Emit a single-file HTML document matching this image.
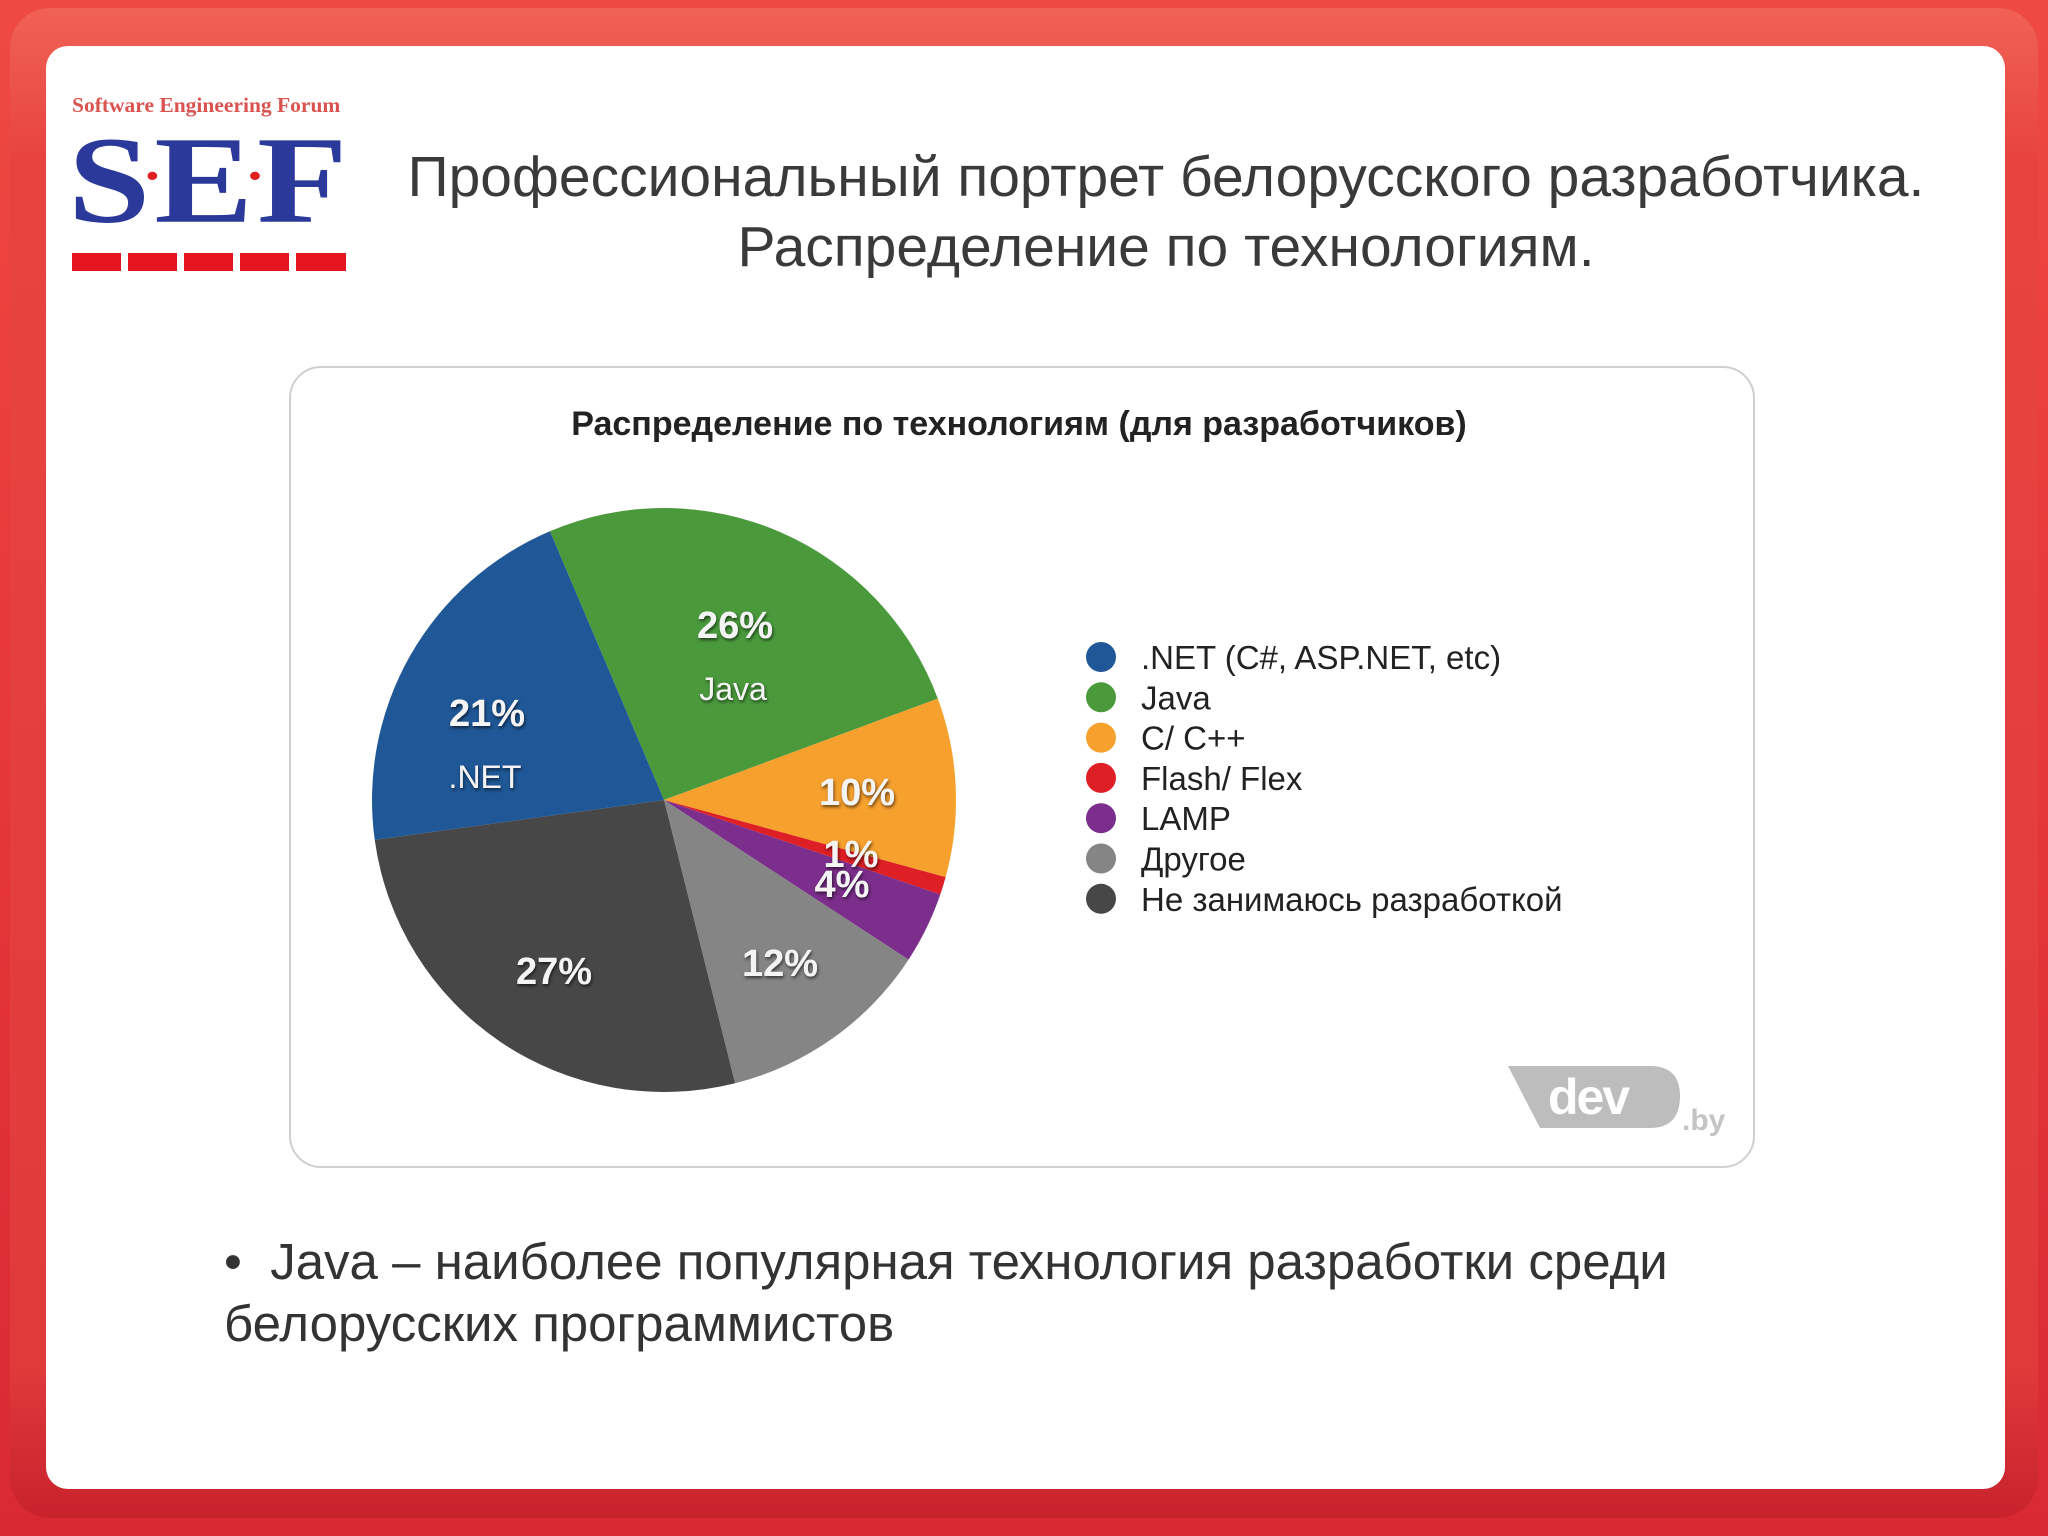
<!DOCTYPE html>
<html><head><meta charset="utf-8">
<style>
html,body{margin:0;padding:0;}
body{width:2048px;height:1536px;position:relative;overflow:hidden;background:linear-gradient(#ee4a43 0%,#e8393a 40%,#d92a33 100%);font-family:"Liberation Sans","DejaVu Sans",sans-serif;}
.frame{position:absolute;left:10px;top:8px;width:2028px;height:1510px;border-radius:40px;background:linear-gradient(#f06255,#e8443f 10%,#e03a3b 90%,#c8222d);}
.panel{position:absolute;left:46px;top:46px;width:1959px;height:1443px;background:#fff;border-radius:22px;}
.t{position:absolute;white-space:nowrap;}
</style></head><body>
<div class="frame"></div>
<div class="panel"></div>

<div>
<div class="t" style="left:72px;top:93px;font-family:'Liberation Serif',serif;font-weight:bold;font-size:21.5px;color:#d9534f;">Software Engineering Forum</div>
<div class="t" style="left:68px;top:126px;width:278px;height:118px;font-family:'Liberation Serif',serif;font-weight:bold;font-size:148px;line-height:118px;color:#2b3a9a;letter-spacing:-8px;transform:scaleY(0.84);transform-origin:top left;">S<span style="color:#e02020;font-size:60px;vertical-align:35px">·</span>E<span style="color:#e02020;font-size:60px;vertical-align:35px">·</span>F</div>
<svg style="position:absolute;left:0;top:0" width="400" height="300">
<g fill="#e4151f"><rect x="72" y="253" width="49" height="18"/><rect x="128" y="253" width="49" height="18"/><rect x="184" y="253" width="49" height="18"/><rect x="240" y="253" width="49" height="18"/><rect x="296" y="253" width="50" height="18"/></g></svg>
</div>

<div class="t" style="left:1166px;top:142px;transform:translateX(-50%);font-size:57px;color:#3a3a3a;text-align:center;line-height:70px;">Профессиональный портрет белорусского разработчика.<br>Распределение по технологиям.</div>

<div style="position:absolute;left:289px;top:366px;width:1466px;height:802px;border:2px solid #cfcfcf;border-radius:32px;box-sizing:border-box;background:#fff;"></div>
<div class="t" style="left:1019px;top:405px;transform:translateX(-50%);font-size:34px;font-weight:bold;color:#222;">Распределение по технологиям (для разработчиков)</div>

<svg id="pie" style="position:absolute;left:0;top:0" width="2048" height="1536">
<defs><filter id="sh" x="-20%" y="-20%" width="140%" height="140%"><feDropShadow dx="1" dy="2" stdDeviation="1.5" flood-color="#000" flood-opacity="0.6"/></filter></defs>
</svg>

<div>
<svg style="position:absolute;left:1500px;top:1060px" width="240" height="85">
<path d="M8 6 L150 6 Q180 6 180 36 Q180 68 150 68 L40 68 Z" fill="#bdbdbd"/>
</svg>
<div class="t" style="left:1548px;top:1068px;font-size:50px;font-weight:bold;color:#fff;letter-spacing:-2px;">dev</div>
<div class="t" style="left:1682px;top:1104px;font-size:30px;font-weight:bold;color:#c4c4c4;">.by</div>
</div>

<div class="t" style="left:224px;top:1231px;font-size:51px;color:#333;line-height:62px;">•&nbsp; Java – наиболее популярная технология разработки среди<br>белорусских программистов</div>

<script>
const categories = [".NET (C#, ASP.NET, etc)", "Java", "C/ C++", "Flash/ Flex", "LAMP", "Другое", "Не занимаюсь разработкой"];
const values = [21, 26, 10, 1, 4, 12, 27];
const pctLabels = ["21%", "26%", "10%", "1%", "4%", "12%", "27%"];
const sliceNames = [".NET", "Java", "", "", "", "", ""];
const colors = ["#1f5797", "#4a9a3c", "#f6a02e", "#df1f26", "#7b2e8b", "#858585", "#474747"];
const drawOrder = [1, 2, 3, 4, 5, 6, 0];
const labelPos = {0:[487,712],1:[735,624],2:[857,791],3:[851,853],4:[842,883],5:[780,962],6:[554,970]};

const svg = document.getElementById('pie');
const NS = 'http://www.w3.org/2000/svg';
const cx = 664, cy = 800, R = 292;
const startDeg = -23;
const total = values.reduce((a, b) => a + b, 0);
function pt(deg, r) { const a = deg * Math.PI / 180; return [cx + r * Math.sin(a), cy - r * Math.cos(a)]; }
let ang = startDeg;
drawOrder.forEach(i => {
  const sweep = values[i] / total * 360;
  const p1 = pt(ang, R), p2 = pt(ang + sweep, R);
  const path = document.createElementNS(NS, 'path');
  path.setAttribute('d', `M${cx},${cy} L${p1[0]},${p1[1]} A${R},${R} 0 ${sweep > 180 ? 1 : 0} 1 ${p2[0]},${p2[1]} Z`);
  path.setAttribute('fill', colors[i]);
  
  
  svg.appendChild(path);
  ang += sweep;
});
drawOrder.forEach(i => {
  const p = labelPos[i];
  const t = document.createElementNS(NS, 'text');
  t.setAttribute('x', p[0]); t.setAttribute('y', p[1] + 14);
  t.setAttribute('text-anchor', 'middle');
  t.setAttribute('font-size', '38'); t.setAttribute('font-weight', 'bold');
  t.setAttribute('fill', '#f4f4f4');
  t.setAttribute('filter', 'url(#sh)');
  t.textContent = pctLabels[i];
  
  
  svg.appendChild(t);
  if (sliceNames[i]) {
    const n = document.createElementNS(NS, 'text');
    n.setAttribute('x', p[0] - 2); n.setAttribute('y', p[1] + 76);
    n.setAttribute('text-anchor', 'middle');
    n.setAttribute('font-size', '32');
    n.setAttribute('fill', '#f4f4f4');
    n.setAttribute('filter', 'url(#sh)');
    n.textContent = sliceNames[i];
    
    
    svg.appendChild(n);
  }
});
categories.forEach((c, i) => {
  const y = 657 + i * 40.3;
  const dot = document.createElementNS(NS, 'circle');
  dot.setAttribute('cx', 1101); dot.setAttribute('cy', y); dot.setAttribute('r', 15);
  dot.setAttribute('fill', colors[i]);
  
  
  svg.appendChild(dot);
  const t = document.createElementNS(NS, 'text');
  t.setAttribute('x', 1141); t.setAttribute('y', y + 12);
  t.setAttribute('font-size', '33'); t.setAttribute('fill', '#222');
  t.textContent = c;
  
  
  svg.appendChild(t);
});
</script>
</body></html>
